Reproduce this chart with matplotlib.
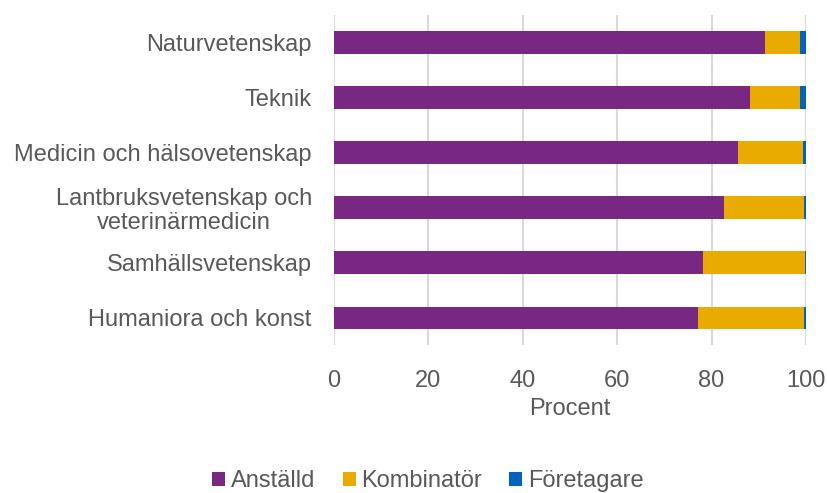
import matplotlib
matplotlib.use("Agg")
import matplotlib.pyplot as plt
import numpy as np

plt.rcParams['font.family'] = ['Liberation Sans', 'DejaVu Sans']

categories = ["Naturvetenskap", "Teknik", "Medicin och hälsovetenskap",
              "Lantbruksvetenskap och\nveterinärmedicin", "Samhällsvetenskap",
              "Humaniora och konst"]
anstalld = [91.3, 88.1, 85.5, 82.6, 78.1, 77.2]
kombinator = [7.4, 10.6, 13.8, 17.0, 21.7, 22.4]
foretagare = [1.3, 1.3, 0.7, 0.4, 0.2, 0.4]
series_names = ["Anställd", "Kombinatör", "Företagare"]
colors = ["#782782", "#EAAB00", "#0063BE"]
xticks = [0, 20, 40, 60, 80, 100]

TXT = '#595959'
FS = 17

fig = plt.figure(figsize=(8.27, 4.93), dpi=100)
ax = fig.add_axes([334/827, 1-345/493, 472/827, 330/493])

y = np.arange(len(categories))[::-1]
left = np.zeros(len(categories))
for vals, name, c in zip([anstalld, kombinator, foretagare], series_names, colors):
    ax.barh(y, vals, left=left, height=0.4, color=c, label=name, zorder=3)
    left = left + np.array(vals)

ax.set_xlim(0, 100)
ax.set_ylim(-0.5, 5.5)
ax.set_xticks(xticks)
ax.set_xticklabels([str(t) for t in xticks])
ax.set_yticks(y)
ax.set_yticklabels(categories, linespacing=1.1)
for lab in ax.get_yticklabels():
    lab.set_ha('right')
    lab.set_multialignment('center')
ax.tick_params(axis='y', length=0, pad=16, labelsize=FS, labelcolor=TXT)
ax.tick_params(axis='x', length=0, pad=18, labelsize=FS, labelcolor=TXT)
for s in ax.spines.values():
    s.set_visible(False)
ax.grid(axis='x', color='#D9D9D9', linewidth=1.5, zorder=0)
ax.set_xlabel("Procent", fontsize=FS, color=TXT, labelpad=4)

leg = fig.legend(loc='center', bbox_to_anchor=(428/827, 1-481/493), ncol=3,
                 frameon=False, fontsize=FS, handlelength=0.55, handleheight=0.55,
                 handletextpad=0.25, columnspacing=1.15, borderpad=0)
for t in leg.get_texts():
    t.set_color(TXT)

fig.savefig("out.png", dpi=100)
